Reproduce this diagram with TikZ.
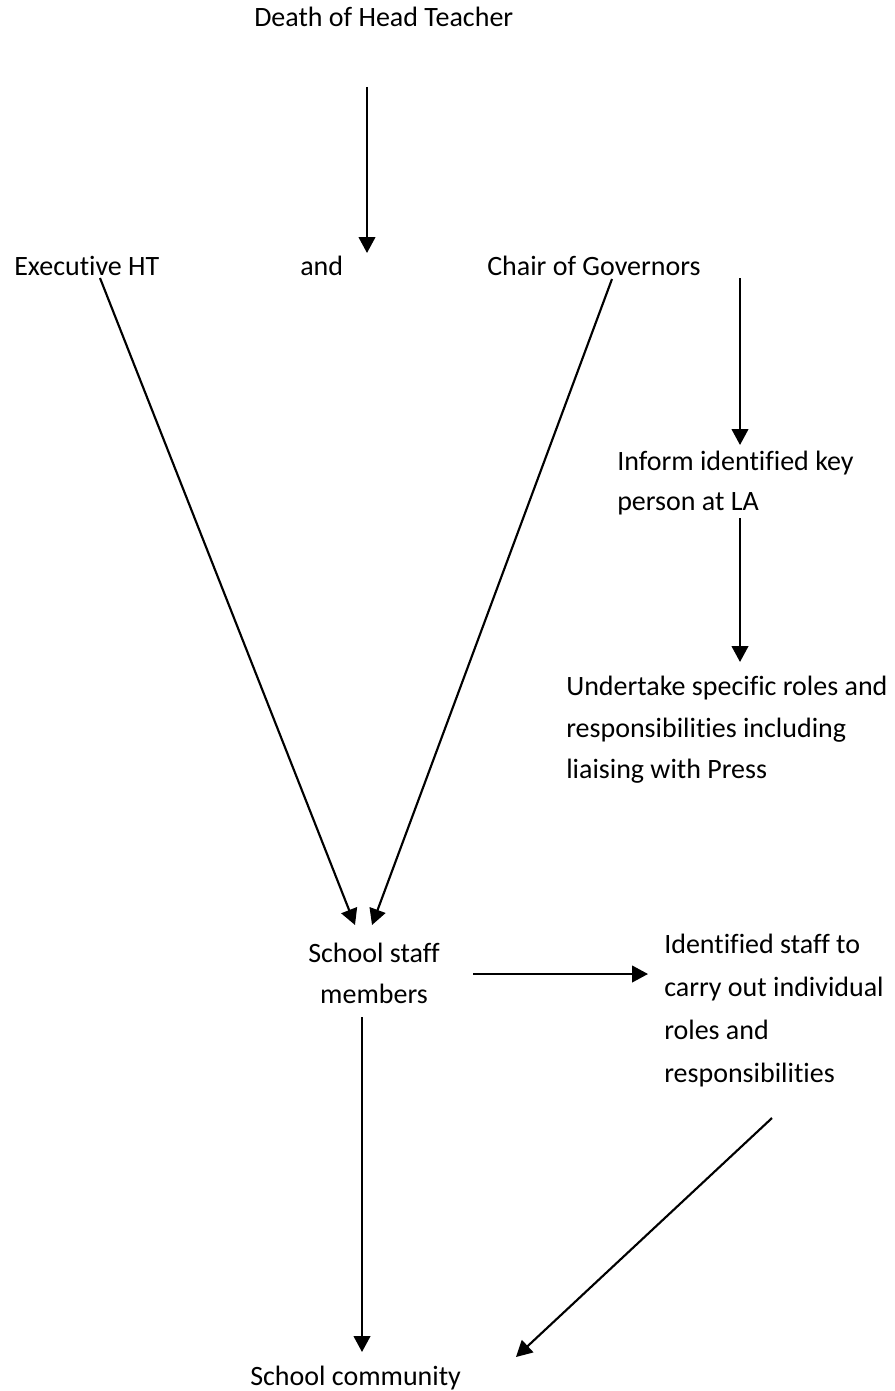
\documentclass[tikz,border=0pt]{standalone}
\usepackage{fontspec}
\setmainfont{Carlito}[Ligatures={CommonOff}]
\usetikzlibrary{arrows.meta}
\begin{document}
\begin{tikzpicture}[x=0.75pt,y=-0.75pt,
  lbl/.style={anchor=base west,inner sep=0pt,font=\fontsize{21}{25}\selectfont},
  clbl/.style={anchor=base,inner sep=0pt,font=\fontsize{21}{25}\selectfont},
  conn/.style={line width=1.6pt,-{Triangle[length=12pt,width=12.5pt]}}]
\useasboundingbox (0,0) rectangle (895,1391);
% texts
\node[lbl] (death) at (254,27) {Death of Head Teacher};
\node[lbl] (exec) at (14,275) {Executive HT};
\node[lbl] (and) at (300,275) {and};
\node[lbl] (chair) at (487,275) {Chair of Governors};
\node[lbl] (inf1) at (617,470) {Inform identified key};
\node[lbl] (inf2) at (617,510) {person at LA};
\node[lbl] (und1) at (566,695) {Undertake specific roles and};
\node[lbl] (und2) at (566,737) {responsibilities including};
\node[lbl] (und3) at (566,778) {liaising with Press};
\node[clbl] (sch1) at (374,962) {School staff};
\node[clbl] (sch2) at (374,1003) {members};
\node[lbl] (ids1) at (664,953) {Identified staff to};
\node[lbl] (ids2) at (664,996) {carry out individual};
\node[lbl] (ids3) at (664,1039) {roles and};
\node[lbl] (ids4) at (664,1082) {responsibilities};
\node[lbl] (comm) at (250,1385) {School community};
% connector end points
\coordinate (a1s) at (367,87);   \coordinate (a1e) at (367,253);
\coordinate (a2s) at (100,278);  \coordinate (a2e) at (355,925);
\coordinate (a3s) at (612,279);  \coordinate (a3e) at (372,925);
\coordinate (a4s) at (740,278);  \coordinate (a4e) at (740,445);
\coordinate (a5s) at (740,518);  \coordinate (a5e) at (740,662);
\coordinate (a6s) at (473,974);  \coordinate (a6e) at (648,974);
\coordinate (a7s) at (362,1017); \coordinate (a7e) at (362,1352);
\coordinate (a8s) at (772,1118); \coordinate (a8e) at (516,1357);
% connectors
\draw[conn] (a1s) -- (a1e);
\draw[conn] (a2s) -- (a2e);
\draw[conn] (a3s) -- (a3e);
\draw[conn] (a4s) -- (a4e);
\draw[conn] (a5s) -- (a5e);
\draw[conn] (a6s) -- (a6e);
\draw[conn] (a7s) -- (a7e);
\draw[conn] (a8s) -- (a8e);
\end{tikzpicture}
\end{document}
